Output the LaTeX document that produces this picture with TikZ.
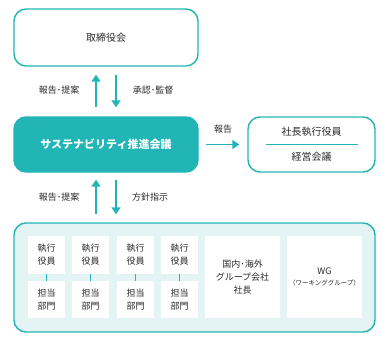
\documentclass[tikz,border=0pt]{standalone}
\usepackage{fontspec}
\setmainfont{Noto Sans CJK JP}
\usetikzlibrary{arrows.meta}
\definecolor{teal1}{HTML}{22B5B5}
\definecolor{tealbg}{HTML}{E4F3F3}
\definecolor{txt}{HTML}{2A2A2A}
\tikzset{
  box/.style={draw=teal1, line width=1.4pt, rounded corners=12pt, fill=white, align=center, text=txt, inner sep=0pt, font=\fontsize{10}{13}\selectfont},
  inbox/.style={fill=white, draw=none, align=center, text=txt, inner sep=0pt, font=\fontsize{9}{13}\selectfont, minimum width=37pt},
  arr/.style={draw=teal1, line width=1.6pt, -{Triangle[width=9pt,length=7pt]}},
  lbl/.style={text=txt, font=\fontsize{9}{11}\selectfont, inner sep=0pt},
  link/.style={draw=teal1, line width=1.4pt}
}
\begin{document}
\begin{tikzpicture}[x=1pt,y=-1pt]
\useasboundingbox (0,0) rectangle (391,345);
\node[box, minimum width=184pt, minimum height=57pt] (top) at (106,37.5) {取締役会};
\node[box, fill=teal1, draw=teal1, text=white, minimum width=184pt, minimum height=55pt, font=\fontsize{11}{13}\selectfont\bfseries] (sus) at (106,144.5) {サステナビリティ推進会議};
\node[box, minimum width=127pt, minimum height=55pt] (right) at (311.5,144.5) {};
\node[text=txt, font=\fontsize{10}{13}\selectfont, inner sep=0pt] (ceo) at (311.5,132) {社長執行役員};
\node[text=txt, font=\fontsize{10}{13}\selectfont, inner sep=0pt] (keiei) at (311.5,157) {経営会議};
\coordinate (sl) at ([xshift=-46pt]right.center);
\coordinate (sr) at ([xshift=46pt]right.center);
\draw[draw=teal1, line width=1pt] (sl) -- (sr);
\node[box, fill=tealbg, minimum width=361pt, minimum height=109pt] (bot) at (194.5,277.5) {};
% arrows
\draw[arr, shorten <=9pt, shorten >=8pt] ([xshift=-10pt]sus.north) -- ([xshift=-10pt]top.south);
\draw[arr, shorten <=8pt, shorten >=9pt] ([xshift=10pt]top.south) -- ([xshift=10pt]sus.north);
\draw[arr, shorten <=8pt, shorten >=7pt] ([xshift=-10pt]sus.south |- bot.north) -- ([xshift=-10pt]sus.south);
\draw[arr, shorten <=7pt, shorten >=8pt] ([xshift=10pt]sus.south) -- ([xshift=10pt]sus.south |- bot.north);
\draw[arr, shorten <=7pt, shorten >=8pt] (sus.east) -- (right.west);
\node[lbl] (l1) at (59,90) {報告･提案};
\node[lbl] (l2) at (153,90) {承認･監督};
\node[lbl] (l3) at (59,197) {報告･提案};
\node[lbl] (l4) at (150,197) {方針指示};
\node[lbl] (l5) at (223,129) {報告};
% inner boxes
\foreach \i/\x in {1/46.5,2/90.5,3/135.5,4/179.5}{
  \node[inbox, minimum height=38pt] (e\i) at (\x,255) {執行\\役員};
  \node[inbox, minimum height=37pt] (d\i) at (\x,299.5) {担当\\部門};
  \draw[link] (e\i) -- (d\i);
}
\node[inbox, minimum width=75pt, minimum height=82pt] (grp) at (242.5,277) {国内･海外\\グループ会社\\社長};
\node[inbox, minimum width=75pt, minimum height=82pt, font=\fontsize{9}{11}\selectfont] (wg) at (324.5,277) {WG\\{\fontsize{6.5}{8}\selectfont （ワーキンググループ）}};
\end{tikzpicture}
\end{document}
